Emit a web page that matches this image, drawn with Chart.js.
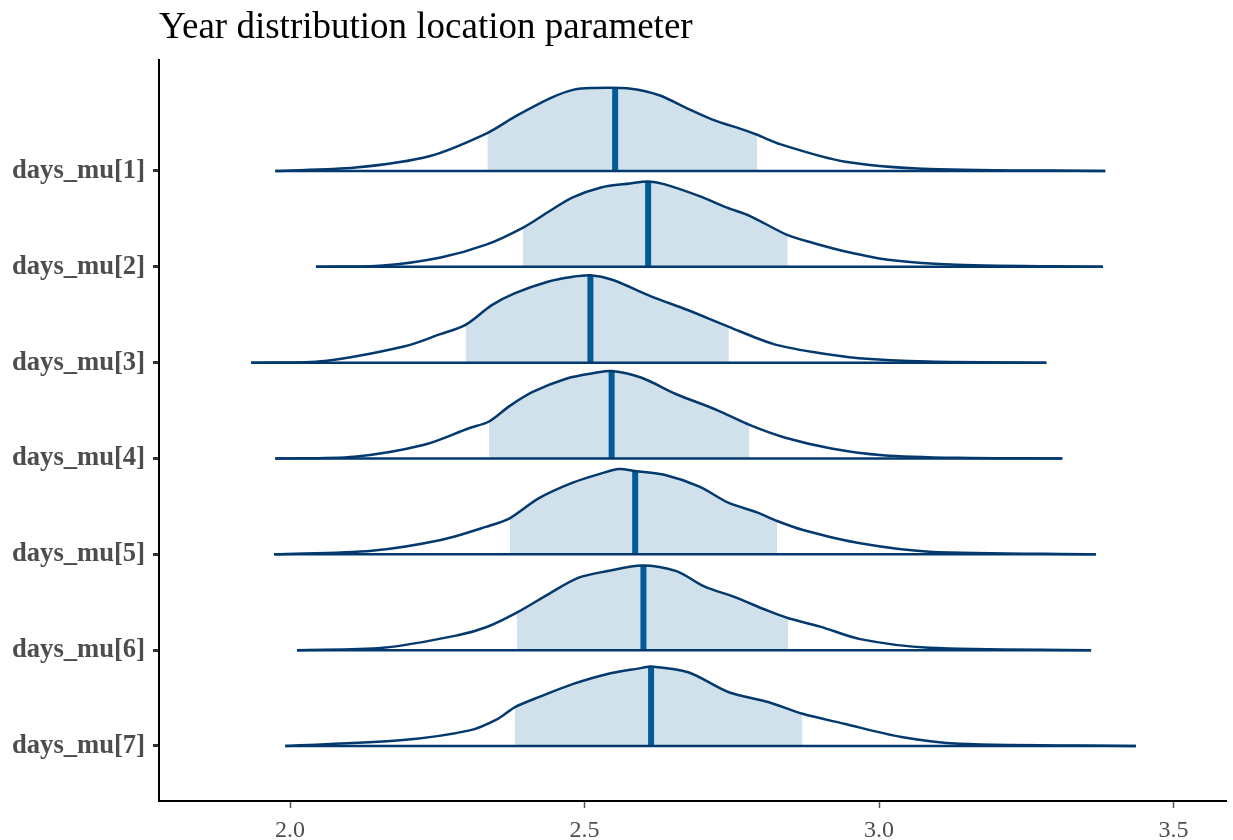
<!DOCTYPE html>
<html>
<head>
<meta charset="utf-8">
<script src="https://cdn.jsdelivr.net/npm/chart.js@4"></script>
<style>
  body { margin: 0; background: #fff; }
  #wrap { width: 1233px; height: 840px; }
</style>
</head>
<body>
<div id="wrap"><canvas id="myChart" width="1233" height="840"></canvas></div>
<script>
// parametre og akse
const params = ['days_mu[1]', 'days_mu[2]', 'days_mu[3]', 'days_mu[4]', 'days_mu[5]', 'days_mu[6]', 'days_mu[7]'];
const xTicks = [2.0, 2.5, 3.0, 3.5];

// median og 80% intervall
const medians = [2.552, 2.608, 2.510, 2.546, 2.586, 2.600, 2.613];
const medianH = [0.866, 0.891, 0.911, 0.912, 0.869, 0.884, 0.830];
const lower = [2.335, 2.395, 2.298, 2.338, 2.373, 2.385, 2.382];
const upper = [2.793, 2.845, 2.745, 2.780, 2.827, 2.846, 2.870];

// tetthetskurver (x og hoyde) lest av bildet
const curveX = [
  [1.975, 2.111, 2.238, 2.335, 2.384, 2.443, 2.482, 2.511, 2.579, 2.628, 2.677, 2.716, 2.774, 2.793, 2.833, 2.940, 3.086, 3.384],
  [2.044, 2.158, 2.256, 2.333, 2.395, 2.441, 2.479, 2.528, 2.577, 2.608, 2.635, 2.694, 2.742, 2.781, 2.845, 2.888, 2.947, 3.015, 3.132, 3.380],
  [1.934, 2.059, 2.195, 2.254, 2.298, 2.342, 2.381, 2.439, 2.478, 2.510, 2.547, 2.615, 2.674, 2.745, 2.820, 2.888, 2.966, 3.083, 3.284],
  [1.975, 2.109, 2.226, 2.304, 2.338, 2.372, 2.412, 2.470, 2.519, 2.546, 2.597, 2.655, 2.724, 2.780, 2.841, 2.919, 3.006, 3.133, 3.311],
  [1.973, 2.139, 2.256, 2.334, 2.373, 2.422, 2.480, 2.529, 2.558, 2.586, 2.637, 2.695, 2.744, 2.793, 2.827, 2.871, 2.968, 3.085, 3.368],
  [2.012, 2.158, 2.285, 2.334, 2.385, 2.441, 2.490, 2.539, 2.597, 2.656, 2.704, 2.753, 2.812, 2.846, 2.900, 2.968, 3.085, 3.360],
  [1.992, 2.187, 2.305, 2.353, 2.382, 2.422, 2.481, 2.539, 2.598, 2.613, 2.676, 2.745, 2.813, 2.870, 2.941, 3.038, 3.136, 3.436]
];
const curveH = [
  [0, 0.036, 0.157, 0.396, 0.574, 0.763, 0.849, 0.866, 0.859, 0.788, 0.645, 0.539, 0.421, 0.378, 0.278, 0.100, 0.021, 0],
  [0, 0.014, 0.098, 0.231, 0.407, 0.582, 0.722, 0.828, 0.870, 0.891, 0.863, 0.740, 0.617, 0.530, 0.330, 0.249, 0.154, 0.074, 0.021, 0],
  [0, 0.018, 0.171, 0.295, 0.395, 0.598, 0.723, 0.847, 0.894, 0.911, 0.865, 0.687, 0.552, 0.374, 0.196, 0.110, 0.046, 0.011, 0],
  [0, 0.018, 0.140, 0.316, 0.386, 0.544, 0.694, 0.835, 0.894, 0.912, 0.842, 0.673, 0.508, 0.351, 0.217, 0.105, 0.035, 0.007, 0],
  [0, 0.038, 0.150, 0.289, 0.376, 0.584, 0.748, 0.845, 0.890, 0.869, 0.827, 0.706, 0.539, 0.438, 0.348, 0.254, 0.115, 0.028, 0],
  [0, 0.024, 0.156, 0.242, 0.392, 0.593, 0.756, 0.825, 0.884, 0.825, 0.662, 0.558, 0.409, 0.333, 0.246, 0.115, 0.024, 0],
  [0, 0.059, 0.163, 0.284, 0.405, 0.509, 0.648, 0.752, 0.815, 0.830, 0.769, 0.561, 0.457, 0.336, 0.232, 0.094, 0.024, 0]
];

const darkCol = '#03396c';
const medCol = '#005b96';
const fillCol = '#d1e1ec';
const smooth = 0.3;

// bygger datasett for hver rad
const datasets = [];
params.forEach((p, i) => {
  const base = 7 - i;
  const pts = curveX[i].map((x, j) => ({ x: x, y: base + curveH[i][j] }));
  const inner = pts.filter(pt => pt.x >= lower[i] && pt.x <= upper[i]);
  datasets.push({
    data: inner, showLine: true, fill: { value: base }, backgroundColor: fillCol,
    borderWidth: 0, pointRadius: 0, tension: smooth, order: 4
  });
  datasets.push({
    data: [{ x: medians[i], y: base }, { x: medians[i], y: base + medianH[i] }],
    showLine: true, borderColor: medCol, borderWidth: 6, pointRadius: 0, order: 3
  });
  datasets.push({
    data: pts, showLine: true, borderColor: darkCol, borderWidth: 2.5, pointRadius: 0,
    tension: smooth, fill: false, order: 1
  });
  datasets.push({
    data: [{ x: curveX[i][0], y: base }, { x: curveX[i][curveX[i].length - 1], y: base }],
    showLine: true, borderColor: darkCol, borderWidth: 2.5, pointRadius: 0, order: 2
  });
});

const ctx = document.getElementById('myChart');
const chart1 = new Chart(ctx, {
  type: 'scatter',
  data: { datasets: datasets },
  options: {
    responsive: false,
    animation: false,
    layout: { padding: { left: 0, right: 7, top: 0, bottom: 0 } },
    plugins: {
      legend: { display: false },
      tooltip: { enabled: false },
      title: {
        display: true,
        text: 'Year distribution location parameter',
        align: 'start',
        fullSize: false,
        color: '#000',
        font: { family: 'Liberation Serif', size: 37, weight: 'normal' },
        padding: { top: 6, bottom: 9.6 }
      }
    },
    scales: {
      x: {
        type: 'linear',
        min: 1.7776,
        max: 3.589,
        afterBuildTicks: s => { s.ticks = xTicks.map(v => ({ value: v })); },
        afterFit: s => { s.height = 39; },
        ticks: {
          color: '#4d4d4d',
          padding: 8,
          font: { family: 'Liberation Serif', size: 24 },
          callback: v => Number(v).toFixed(1)
        },
        grid: { drawOnChartArea: false, drawTicks: true, tickLength: 7, tickWidth: 1.5, tickColor: '#555' },
        border: { display: true, color: '#000', width: 2 }
      },
      y: {
        type: 'linear',
        min: 0.426,
        max: 8.158,
        afterBuildTicks: s => { s.ticks = params.map((p, i) => ({ value: 7 - i })); },
        afterFit: s => { s.width = 159; },
        ticks: {
          color: '#4d4d4d',
          padding: 8,
          font: { family: 'Liberation Serif', size: 26.6, weight: 'bold' },
          callback: v => params[7 - v]
        },
        grid: { drawOnChartArea: false, drawTicks: true, tickLength: 6, tickWidth: 3, tickColor: '#333' },
        border: { display: true, color: '#000', width: 2 }
      }
    }
  }
});
</script>
</body>
</html>
